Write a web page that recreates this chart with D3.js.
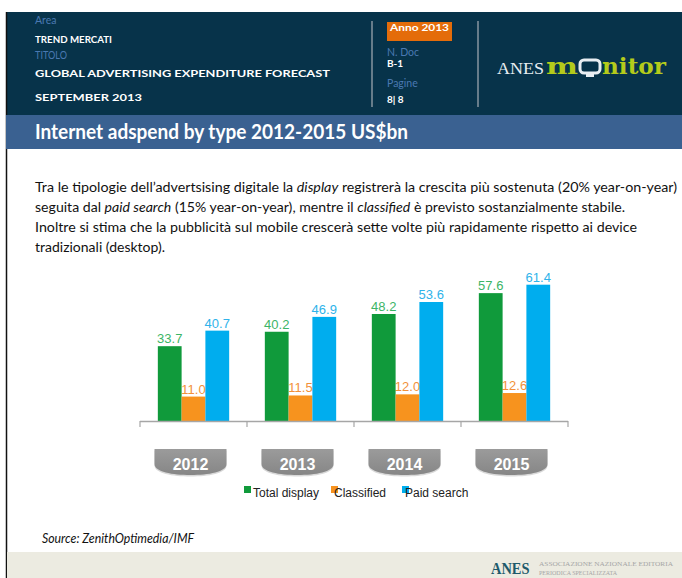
<!DOCTYPE html>
<html>
<head>
<meta charset="utf-8">
<script src="https://cdn.jsdelivr.net/npm/d3@7"></script>
<style>
  body { margin: 0; background: #fff; }
  svg { display: block; }
  .hdr-label { fill: #4a79b2; font-family: Lato, "Open Sans", sans-serif; font-size: 10.5px; }
  .hdr-value { fill: #fff; font-family: Lato, "Open Sans", sans-serif; font-weight: bold; font-size: 10px; }
  .bar-label { font-family: "Liberation Sans", Arial, sans-serif; font-size: 13px; text-anchor: middle; }
  .legend-text { font-family: "Liberation Sans", Arial, sans-serif; font-size: 12px; fill: #222; }
  .para { font-family: Lato, "Open Sans", sans-serif; font-size: 13.5px; fill: #111; }
</style>
</head>
<body>
<svg id="chart" width="682" height="578"></svg>
<script>
// Chart data
const years = ['2012', '2013', '2014', '2015'];
const seriesNames = ['Total display', 'Classified', 'Paid search'];
const totalDisplay = [33.7, 40.2, 48.2, 57.6];
const classified = [11.0, 11.5, 12.0, 12.6];
const paidSearch = [40.7, 46.9, 53.6, 61.4];

// Page texts
const titleText = 'Internet adspend by type 2012-2015 US$bn';
const sourceText = 'Source: ZenithOptimedia/IMF';
const paragraphLines = [
  [['Tra le tipologie dell\u2019advertsising digitale la ', false], ['display', true], [' registrerà la crescita più sostenuta (20% year-on-year)', false]],
  [['seguita dal ', false], ['paid search', true], [' (15% year-on-year), mentre il ', false], ['classified', true], [' è previsto sostanzialmente stabile.', false]],
  [['Inoltre si stima che la pubblicità sul mobile crescerà sette volte più rapidamente rispetto ai device', false]],
  [['tradizionali (desktop).', false]]
];
const paragraphWidths = [642, 590, 602, 130];

const barColors = ['#109a3b', '#f7931e', '#00adee'];
const labelColors = ['#3cb566', '#f2913a', '#2fb3ea'];

const svg = d3.select('#chart');

// ---- Page frame & header ----
svg.append('rect').attr('x', 6).attr('y', 12).attr('width', 676).attr('height', 103).attr('fill', '#07334a');
svg.append('line').attr('x1', 6.5).attr('x2', 6.5).attr('y1', 12).attr('y2', 578).attr('stroke', '#111').attr('stroke-width', 1.5);

const hdr = svg.append('g');
hdr.append('text').attr('class', 'hdr-label').attr('x', 35).attr('y', 24).text('Area');
hdr.append('text').attr('class', 'hdr-value').attr('x', 35).attr('y', 43).attr('font-size', 10)
  .attr('textLength', 77).attr('lengthAdjust', 'spacingAndGlyphs').text('TREND  MERCATI');
hdr.append('text').attr('class', 'hdr-label').attr('x', 35).attr('y', 59)
  .attr('textLength', 32).attr('lengthAdjust', 'spacingAndGlyphs').text('TITOLO');
hdr.append('text').attr('class', 'hdr-value').attr('x', 35).attr('y', 77).attr('font-size', 14)
  .attr('textLength', 295).attr('lengthAdjust', 'spacingAndGlyphs')
  .text('GLOBAL ADVERTISING EXPENDITURE FORECAST');
hdr.append('text').attr('class', 'hdr-value').attr('x', 35).attr('y', 101).attr('font-size', 14)
  .attr('textLength', 107).attr('lengthAdjust', 'spacingAndGlyphs')
  .text('SEPTEMBER  2013');

// dividers
[372, 478].forEach(x => {
  hdr.append('line').attr('x1', x).attr('x2', x).attr('y1', 21).attr('y2', 107)
    .attr('stroke', '#8796a0').attr('stroke-width', 1.5);
});

hdr.append('rect').attr('x', 387).attr('y', 22).attr('width', 65).attr('height', 19).attr('fill', '#e46c0a');
hdr.append('text').attr('class', 'hdr-value').attr('x', 390).attr('y', 31).attr('font-size', 12)
  .attr('textLength', 59).attr('lengthAdjust', 'spacingAndGlyphs').text('Anno 2013');
hdr.append('text').attr('class', 'hdr-label').attr('x', 387).attr('y', 56).text('N. Doc');
hdr.append('text').attr('class', 'hdr-value').attr('x', 387).attr('y', 67).attr('font-size', 10).text('B-1');
hdr.append('text').attr('class', 'hdr-label').attr('x', 387).attr('y', 87).text('Pagine');
hdr.append('text').attr('class', 'hdr-value').attr('x', 387).attr('y', 103).attr('font-size', 10).text('8| 8');

// ANES monitor logo
const logo = hdr.append('g');
logo.append('text').attr('x', 497).attr('y', 74).attr('fill', '#e8eef2')
  .attr('font-family', '"Liberation Serif", "DejaVu Serif", serif').attr('font-size', 17)
  .attr('textLength', 47).attr('lengthAdjust', 'spacingAndGlyphs').text('ANES');
logo.append('text').attr('x', 546).attr('y', 74).attr('fill', '#b4cb1b')
  .attr('font-family', '"DejaVu Serif", serif').attr('font-weight', 'bold').attr('font-size', 22)
  .attr('textLength', 32).attr('lengthAdjust', 'spacingAndGlyphs').text('m');
logo.append('rect').attr('x', 580).attr('y', 60).attr('width', 20).attr('height', 13).attr('rx', 4)
  .attr('fill', 'none').attr('stroke', '#e8eef2').attr('stroke-width', 3);
logo.append('rect').attr('x', 586).attr('y', 73).attr('width', 8).attr('height', 4).attr('fill', '#e8eef2');
logo.append('text').attr('x', 602).attr('y', 74).attr('fill', '#b4cb1b')
  .attr('font-family', '"DejaVu Serif", serif').attr('font-weight', 'bold').attr('font-size', 22)
  .attr('textLength', 64).attr('lengthAdjust', 'spacingAndGlyphs').text('nitor');

// Title band
svg.append('rect').attr('x', 6).attr('y', 115).attr('width', 676).attr('height', 34).attr('fill', '#3a6191');
svg.append('text').attr('x', 35).attr('y', 139).attr('fill', '#fff')
  .attr('font-family', 'Lato, "Open Sans", sans-serif').attr('font-weight', 'bold').attr('font-size', 21)
  .attr('textLength', 373).attr('lengthAdjust', 'spacingAndGlyphs')
  .text(titleText);

// Paragraph
const para = svg.append('g');
paragraphLines.forEach((line, i) => {
  const t = para.append('text').attr('class', 'para').attr('x', 35).attr('y', 192 + i * 20)
    .attr('textLength', paragraphWidths[i]).attr('lengthAdjust', 'spacingAndGlyphs');
  line.forEach(([s, it]) => {
    t.append('tspan').attr('font-style', it ? 'italic' : 'normal').text(s);
  });
});

// ---- Bar chart ----
const baseY = 421;
const x0 = d3.scaleBand().domain(years).range([140, 568]).paddingInner(0).paddingOuter(0);
const x1 = d3.scaleBand().domain(seriesNames).range([0, x0.bandwidth()]).paddingInner(0).paddingOuter(0.75);
const y = d3.scaleLinear().domain([0, 70]).range([baseY, baseY - 70 * 2.22]);
const color = d3.scaleOrdinal().domain(seriesNames).range(barColors);
const labelColor = d3.scaleOrdinal().domain(seriesNames).range(labelColors);

const values = [totalDisplay, classified, paidSearch];
const rows = years.map((yr, i) => ({
  year: yr,
  items: seriesNames.map((s, j) => ({ series: s, value: values[j][i] }))
}));

const chart = svg.append('g');
const groups = chart.selectAll('g.year').data(rows).enter().append('g')
  .attr('class', 'year')
  .attr('transform', d => `translate(${x0(d.year)},0)`);

// labels first (the bars overlap them slightly in the original)
groups.selectAll('text').data(d => d.items).enter().append('text')
  .attr('class', 'bar-label')
  .attr('x', d => x1(d.series) + x1.bandwidth() / 2)
  .attr('y', d => y(d.value) - 3)
  .attr('fill', d => labelColor(d.series))
  .text(d => d.value.toFixed(1));

groups.selectAll('rect').data(d => d.items).enter().append('rect')
  .attr('x', d => x1(d.series))
  .attr('y', d => y(d.value))
  .attr('width', x1.bandwidth())
  .attr('height', d => baseY - y(d.value))
  .attr('fill', d => color(d.series));

// axis line with ticks at band edges
chart.append('line').attr('x1', 140).attr('x2', 568).attr('y1', baseY + 0.5).attr('y2', baseY + 0.5)
  .attr('stroke', '#a6a6a6').attr('stroke-width', 1.5);
const edges = years.map(d => x0(d)).concat([x0.range()[1]]);
chart.selectAll('line.tick').data(edges).enter().append('line')
  .attr('class', 'tick')
  .attr('x1', d => d).attr('x2', d => d)
  .attr('y1', baseY).attr('y2', baseY + 6)
  .attr('stroke', '#a6a6a6').attr('stroke-width', 1.2);

// category tabs
const defs = svg.append('defs');
const grad = defs.append('linearGradient').attr('id', 'tabGrad').attr('x1', 0).attr('x2', 0).attr('y1', 0).attr('y2', 1);
grad.append('stop').attr('offset', '0%').attr('stop-color', '#9b9b9b');
grad.append('stop').attr('offset', '100%').attr('stop-color', '#868686');

const tabW = 72;
const tabPath = `M${-tabW / 2},0 H${tabW / 2} V15 C${tabW / 2},23 ${tabW / 4},26 0,26 C${-tabW / 4},26 ${-tabW / 2},23 ${-tabW / 2},15 Z`;
const tabs = chart.selectAll('g.tab').data(years).enter().append('g')
  .attr('class', 'tab')
  .attr('transform', d => `translate(${x0(d) + x0.bandwidth() / 2 - 3},449)`);
tabs.append('path').attr('d', tabPath).attr('transform', 'translate(0,1.5)').attr('fill', '#d9d9d9');
tabs.append('path').attr('d', tabPath).attr('fill', 'url(#tabGrad)');
tabs.append('text').attr('x', 0).attr('y', 21).attr('text-anchor', 'middle')
  .attr('fill', '#fff').attr('font-family', '"Liberation Sans", Arial, sans-serif')
  .attr('font-weight', 'bold').attr('font-size', 16).text(d => d);

// legend
const legendX = [244, 331, 402];
const legend = chart.selectAll('g.legend').data(seriesNames).enter().append('g')
  .attr('class', 'legend')
  .attr('transform', (d, i) => `translate(${legendX[i]},486)`);
legend.append('rect').attr('width', 7).attr('height', 7).attr('fill', d => color(d));
legend.append('text').attr('class', 'legend-text').attr('x', (d, i) => i === 0 ? 9 : 3).attr('y', 11).text(d => d);

// Source
svg.append('text').attr('x', 42).attr('y', 543).attr('fill', '#111')
  .attr('font-family', 'Lato, "Open Sans", sans-serif').attr('font-style', 'italic').attr('font-size', 13.5)
  .attr('textLength', 152).attr('lengthAdjust', 'spacingAndGlyphs')
  .text(sourceText);

// Footer band
svg.append('rect').attr('x', 7).attr('y', 552).attr('width', 675).attr('height', 26).attr('fill', '#ecebe1');
svg.append('text').attr('transform', 'translate(491,574) scale(0.85,1)').attr('fill', '#1d5a6b')
  .attr('font-family', '"Liberation Serif", serif').attr('font-weight', 'bold').attr('font-size', 17)
  .text('ANES');
svg.append('text').attr('x', 539).attr('y', 566).attr('fill', '#a6a6a6')
  .attr('font-family', '"Liberation Serif", serif').attr('font-size', 6)
  .attr('textLength', 134).attr('lengthAdjust', 'spacingAndGlyphs').text('ASSOCIAZIONE NAZIONALE EDITORIA');
svg.append('text').attr('x', 539).attr('y', 575).attr('fill', '#a6a6a6')
  .attr('font-family', '"Liberation Serif", serif').attr('font-size', 6)
  .attr('textLength', 78).attr('lengthAdjust', 'spacingAndGlyphs').text('PERIODICA SPECIALIZZATA');
</script>
</body>
</html>
